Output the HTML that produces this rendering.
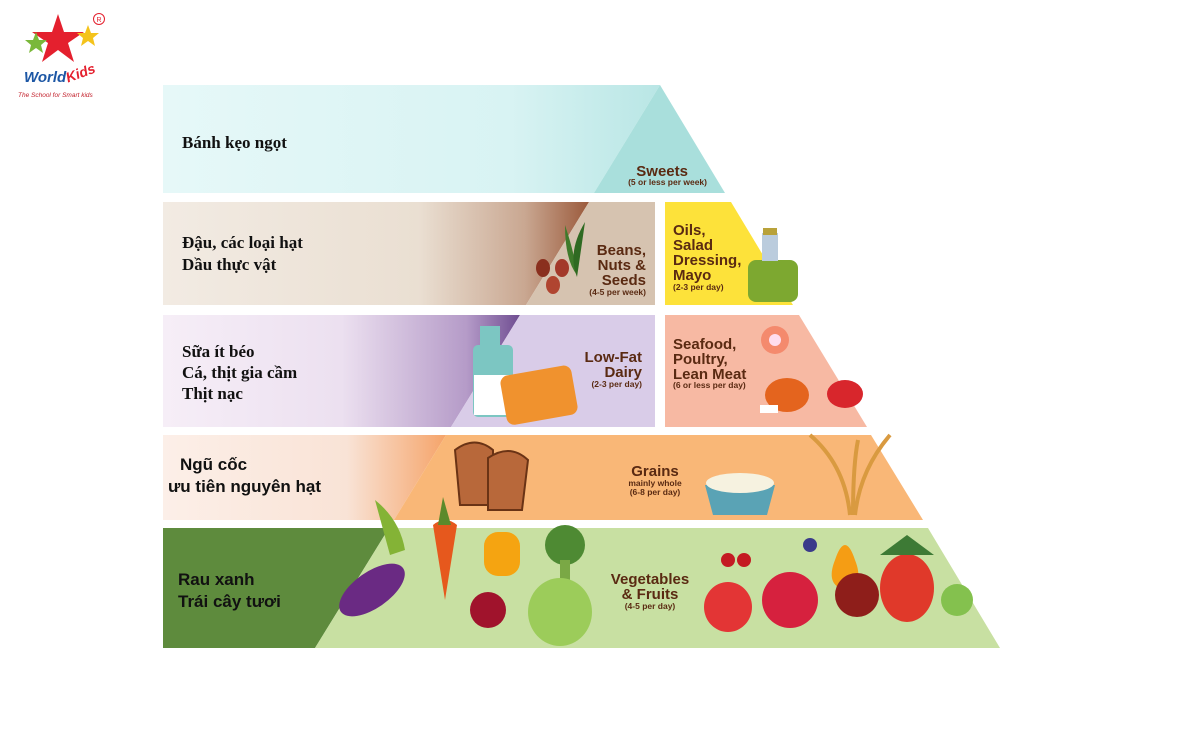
<!DOCTYPE html>
<html><head><meta charset="utf-8"><style>
html,body{margin:0;padding:0;background:#fff;}
svg{display:block;}
text{font-family:"Liberation Sans",sans-serif;}
.vn{font-family:"Liberation Serif","DejaVu Serif",serif;font-weight:bold;font-size:17px;fill:#111;}
.lb{font-weight:bold;fill:#5a2a12;font-size:15px;}
.sm{font-weight:bold;fill:#5a2a12;font-size:8.5px;}
</style></head><body>
<svg width="1200" height="752" viewBox="0 0 1200 752" xmlns="http://www.w3.org/2000/svg">
<defs>
<linearGradient id="g1" gradientUnits="userSpaceOnUse" x1="163" x2="660" y1="0" y2="0"><stop offset="0" stop-color="#e6f8f8"/><stop offset="0.7" stop-color="#d8f3f3"/><stop offset="1" stop-color="#b9e6e5"/></linearGradient>
<linearGradient id="g2" gradientUnits="userSpaceOnUse" x1="163" x2="589" y1="0" y2="0"><stop offset="0" stop-color="#f2ebe3"/><stop offset="0.6" stop-color="#eadfd2"/><stop offset="0.85" stop-color="#c9a791"/><stop offset="1" stop-color="#9b5a3c"/></linearGradient>
<linearGradient id="g3" gradientUnits="userSpaceOnUse" x1="163" x2="520" y1="0" y2="0"><stop offset="0" stop-color="#f6eef7"/><stop offset="0.5" stop-color="#ece0f0"/><stop offset="0.85" stop-color="#b59bc8"/><stop offset="1" stop-color="#6f4d91"/></linearGradient>
<linearGradient id="g4" gradientUnits="userSpaceOnUse" x1="163" x2="446" y1="0" y2="0"><stop offset="0" stop-color="#fcefe8"/><stop offset="0.65" stop-color="#f9e3d6"/><stop offset="1" stop-color="#f5a46a"/></linearGradient>
</defs>
<!-- band 1 -->
<polygon points="163,85 660,85 594,193 163,193" fill="url(#g1)"/>
<polygon points="660,85 725,193 594,193" fill="#a9dfdc"/>
<!-- band 2 -->
<polygon points="163,202 589,202 526,305 163,305" fill="url(#g2)"/>
<polygon points="589,202 655,202 655,305 526,305" fill="#d6c3b0"/>
<polygon points="665,202 731,202 793,305 665,305" fill="#fde23a"/>
<!-- band 3 -->
<polygon points="163,315 520,315 451,427 163,427" fill="url(#g3)"/>
<polygon points="520,315 655,315 655,427 451,427" fill="#d9cce8"/>
<polygon points="665,315 799,315 867,427 665,427" fill="#f7b9a3"/>
<!-- band 4 -->
<polygon points="163,435 446,435 394,520 163,520" fill="url(#g4)"/>
<polygon points="446,435 871,435 923,520 394,520" fill="#f9b777"/>
<!-- band 5 -->
<polygon points="163,528 389,528 315,648 163,648" fill="#5e8b3d"/>
<polygon points="389,528 928,528 1000,648 315,648" fill="#c8e0a2"/>

<!-- left texts -->
<text class="vn" x="182" y="148">Bánh kẹo ngọt</text>
<text class="vn" x="182" y="248">Đậu, các loại hạt</text>
<text class="vn" x="182" y="270">Dầu thực vật</text>
<text class="vn" x="182" y="357">Sữa ít béo</text>
<text class="vn" x="182" y="378">Cá, thịt gia cầm</text>
<text class="vn" x="182" y="399">Thịt nạc</text>
<text class="vn" x="180" y="470" style="font-family:'Liberation Sans',sans-serif">Ngũ cốc</text>
<text class="vn" x="168" y="492" style="font-family:'Liberation Sans',sans-serif">ưu tiên nguyên hạt</text>
<text class="vn" x="178" y="585" style="font-family:'Liberation Sans',sans-serif">Rau xanh</text>
<text class="vn" x="178" y="607" style="font-family:'Liberation Sans',sans-serif">Trái cây tươi</text>

<!-- pyramid labels -->
<text class="lb" x="688" y="176" text-anchor="end">Sweets</text>
<text class="sm" x="707" y="185" text-anchor="end">(5 or less per week)</text>
<text class="lb" x="646" y="255" text-anchor="end">Beans,</text>
<text class="lb" x="646" y="270" text-anchor="end">Nuts &amp;</text>
<text class="lb" x="646" y="285" text-anchor="end">Seeds</text>
<text class="sm" x="646" y="295" text-anchor="end">(4-5 per week)</text>
<text class="lb" x="673" y="235">Oils,</text>
<text class="lb" x="673" y="250">Salad</text>
<text class="lb" x="673" y="265">Dressing,</text>
<text class="lb" x="673" y="280">Mayo</text>
<text class="sm" x="673" y="290">(2-3 per day)</text>
<text class="lb" x="642" y="362" text-anchor="end">Low-Fat</text>
<text class="lb" x="642" y="377" text-anchor="end">Dairy</text>
<text class="sm" x="642" y="387" text-anchor="end">(2-3 per day)</text>
<text class="lb" x="673" y="349">Seafood,</text>
<text class="lb" x="673" y="364">Poultry,</text>
<text class="lb" x="673" y="379">Lean Meat</text>
<text class="sm" x="673" y="388">(6 or less per day)</text>
<text class="lb" x="655" y="476" text-anchor="middle">Grains</text>
<text class="sm" x="655" y="486" text-anchor="middle">mainly whole</text>
<text class="sm" x="655" y="495" text-anchor="middle">(6-8 per day)</text>
<text class="lb" x="650" y="584" text-anchor="middle">Vegetables</text>
<text class="lb" x="650" y="599" text-anchor="middle">&amp; Fruits</text>
<text class="sm" x="650" y="609" text-anchor="middle">(4-5 per day)</text>

<!-- icons -->
<path d="M565,225 q10,30 12,50 q-12,-15 -12,-50z" fill="#3f7a2b"/>
<path d="M585,222 q-5,35 -8,55 q-10,-25 8,-55z" fill="#2f6a22"/>
<ellipse cx="543" cy="268" rx="7" ry="9" fill="#8a2f1e"/><ellipse cx="562" cy="268" rx="7" ry="9" fill="#a3392a"/><ellipse cx="553" cy="285" rx="7" ry="9" fill="#b04530"/>
<rect x="748" y="260" width="50" height="42" rx="8" fill="#7da830"/><rect x="762" y="233" width="16" height="28" fill="#bcd"/><rect x="763" y="228" width="14" height="7" fill="#b9a23a"/>
<rect x="473" y="345" width="40" height="72" rx="5" fill="#7cc6c2"/><rect x="474" y="375" width="38" height="40" fill="#fff"/><rect x="480" y="326" width="20" height="20" fill="#7cc6c2"/>
<rect x="503" y="370" width="72" height="50" rx="8" fill="#f0922e" transform="rotate(-10 540 395)"/>
<circle cx="775" cy="340" r="14" fill="#f48a6d"/><circle cx="775" cy="340" r="6" fill="#fde"/>
<ellipse cx="787" cy="395" rx="22" ry="17" fill="#e4641e"/><rect x="760" y="405" width="18" height="8" fill="#fff"/>
<ellipse cx="845" cy="394" rx="18" ry="14" fill="#d8262c"/>
<path d="M455,450 q20,-15 38,0 v55 h-33z" fill="#b8683a" stroke="#6a3315" stroke-width="2"/>
<path d="M488,458 q22,-15 40,2 l-6,50 h-34z" fill="#b8683a" stroke="#6a3315" stroke-width="2"/>
<path d="M705,485 h70 l-8,30 h-54z" fill="#5aa3b5"/><ellipse cx="740" cy="483" rx="34" ry="10" fill="#f6f2e0"/>
<path d="M850,515 q-5,-50 -40,-80 M855,515 q5,-45 35,-80 M853,515 q0,-50 5,-75" stroke="#d99a40" stroke-width="4" fill="none"/>
<path d="M375,500 q25,20 30,50 l-15,5z" fill="#84b336"/>
<ellipse cx="372" cy="590" rx="38" ry="18" fill="#6a2a83" transform="rotate(-35 372 590)"/>
<path d="M445,600 l-12,-75 q12,-10 24,0z" fill="#e6581d"/><path d="M438,525 l5,-28 l8,28z" fill="#5c8a2b"/>
<rect x="484" y="532" width="36" height="44" rx="14" fill="#f5a411"/>
<circle cx="565" cy="545" r="20" fill="#4e8a33"/><rect x="560" y="560" width="10" height="20" fill="#7aa845"/>
<ellipse cx="560" cy="612" rx="32" ry="34" fill="#9ccc5a"/>
<circle cx="488" cy="610" r="18" fill="#a0132c"/>
<circle cx="728" cy="560" r="7" fill="#c41a22"/><circle cx="744" cy="560" r="7" fill="#c41a22"/>
<circle cx="810" cy="545" r="7" fill="#3a3a8a"/>
<ellipse cx="728" cy="607" rx="24" ry="25" fill="#e33535"/>
<circle cx="790" cy="600" r="28" fill="#d6213e"/>
<path d="M835,560 q10,-30 20,0 q10,25 -10,30 q-20,-5 -10,-30z" fill="#f59d14"/>
<circle cx="857" cy="595" r="22" fill="#8e1e1a"/>
<ellipse cx="907" cy="588" rx="27" ry="34" fill="#e0392a"/><path d="M880,555 l27,-20 l27,20z" fill="#3d7a35"/>
<circle cx="957" cy="600" r="16" fill="#84c14e"/>

<!-- logo -->
<polygon points="58,14 64,32 84,32 68,43 74,62 58,50 42,62 48,43 32,32 52,32" fill="#e4202e"/>
<polygon points="36,32 39,40 47,40 41,45 43,53 36,48 29,53 31,45 25,40 33,40" fill="#7ab83a"/>
<polygon points="88,25 91,33 99,33 93,38 95,46 88,41 81,46 83,38 77,33 85,33" fill="#f4c31b"/>
<text x="24" y="82" font-size="15" font-weight="bold" font-style="italic" fill="#1d57a5">World</text>
<text x="66" y="78" font-size="14" font-weight="bold" font-style="italic" fill="#e4202e" transform="rotate(-20 80 75)">Kids</text>
<text x="18" y="97" font-size="6.5" font-style="italic" fill="#c21f2a">The School for Smart kids</text>
<circle cx="99" cy="19" r="5.5" fill="none" stroke="#e4202e" stroke-width="1"/><text x="99" y="22" font-size="7" text-anchor="middle" fill="#e4202e">R</text>
</svg>
</body></html>
